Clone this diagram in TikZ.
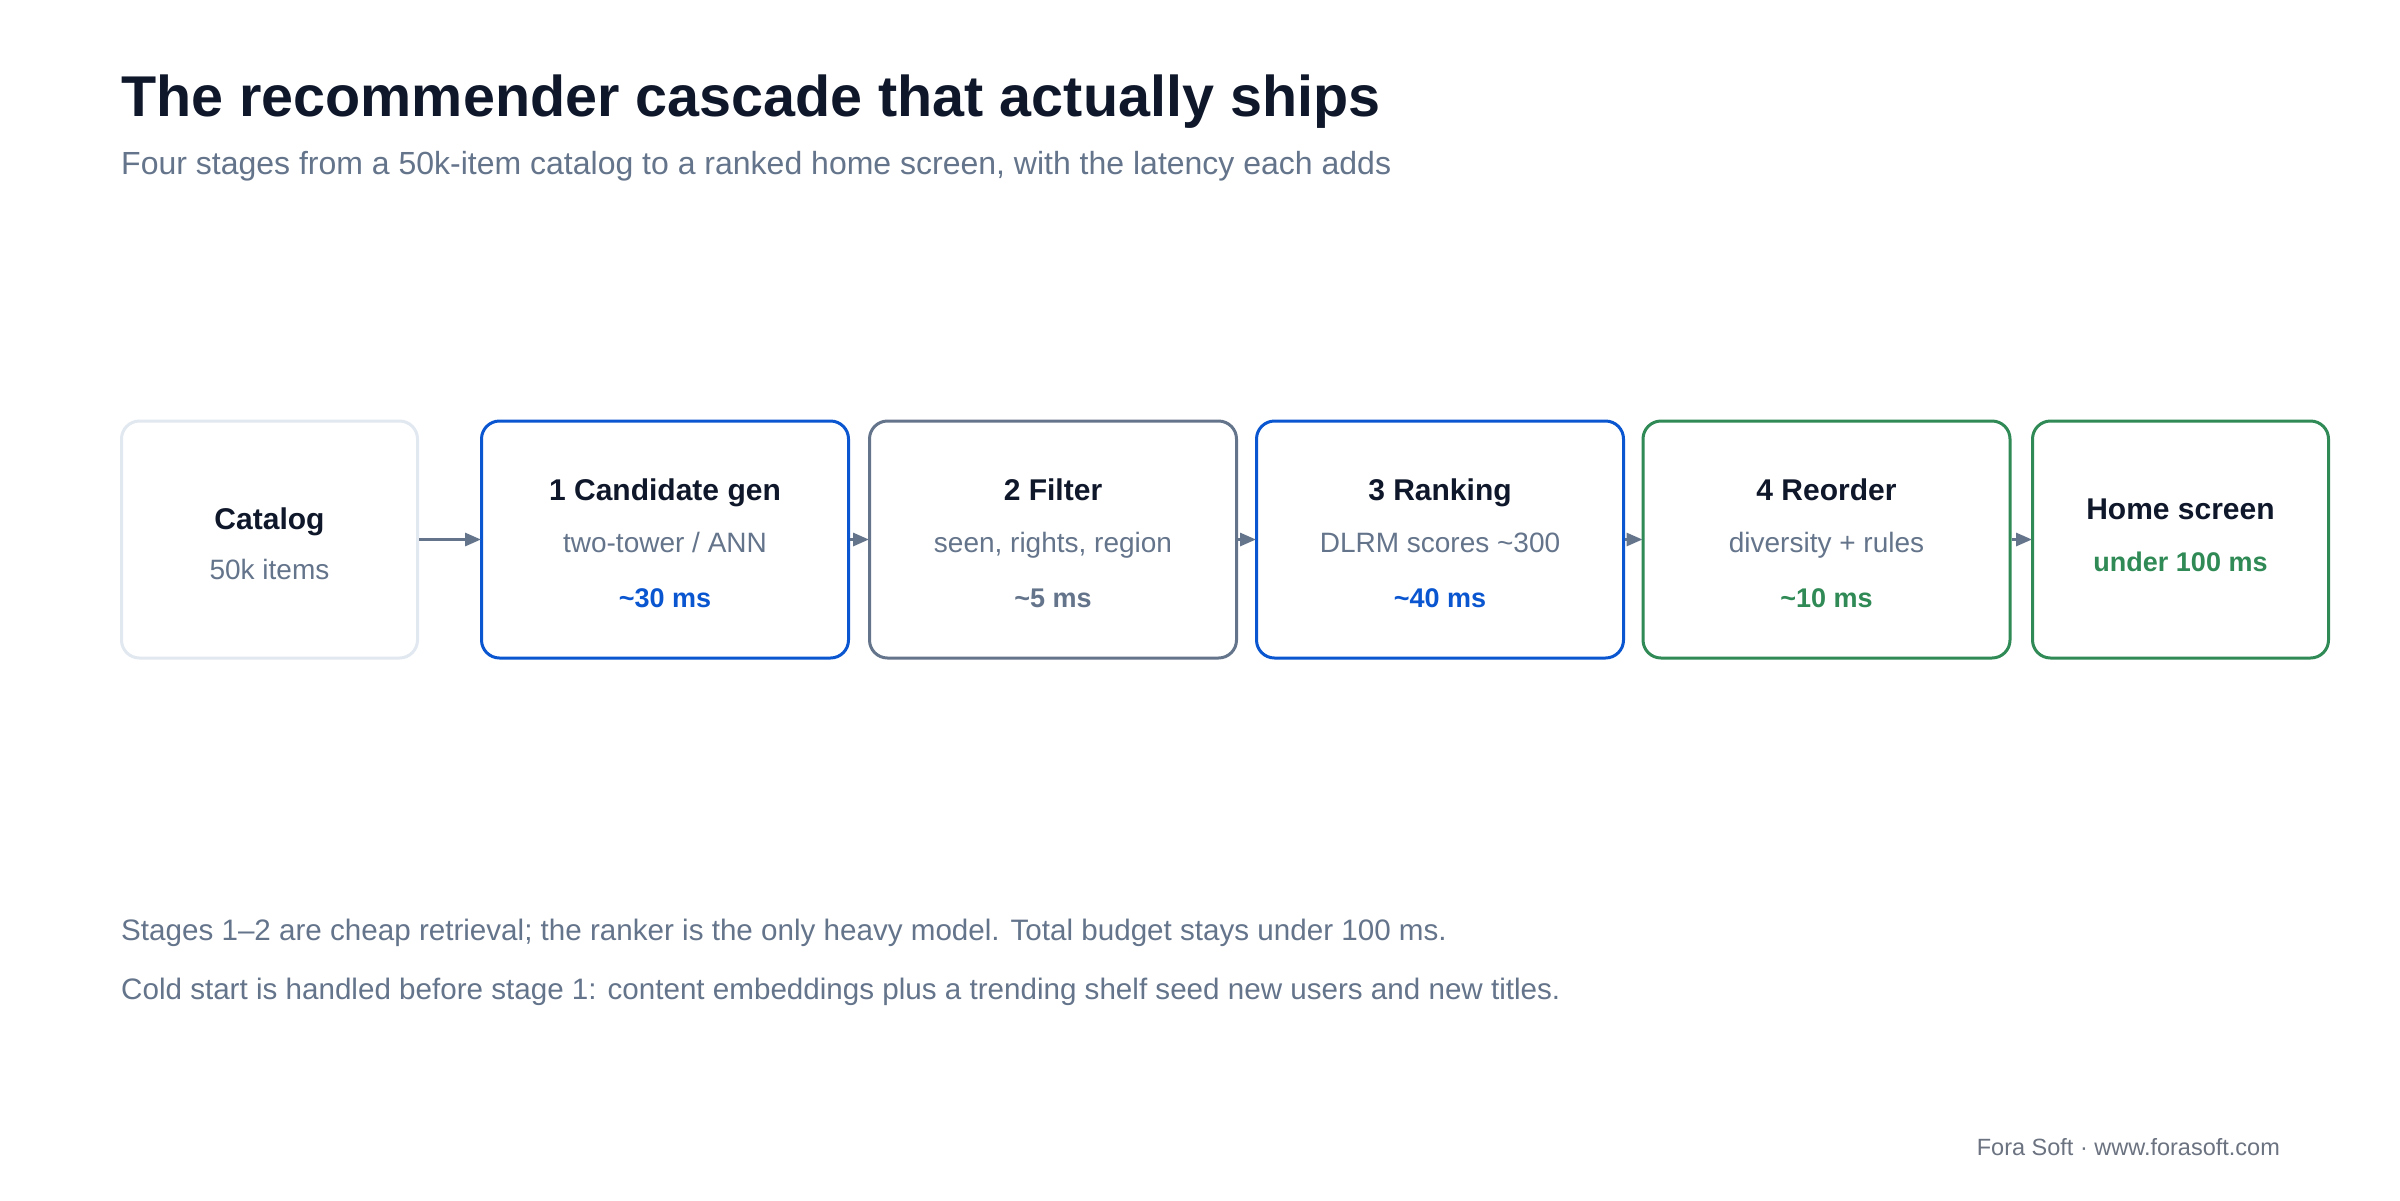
\documentclass[tikz,border=0pt]{standalone}
\usepackage{fontspec}
\setmainfont{Liberation Sans}
\usetikzlibrary{arrows.meta}
\definecolor{ink}{HTML}{0F172A}
\definecolor{muted}{HTML}{64748B}
\definecolor{accblue}{HTML}{0A55D0}
\definecolor{accgreen}{HTML}{2F8A55}
\definecolor{faint}{HTML}{E2E8F0}
\definecolor{footgray}{HTML}{6B7280}
\newcommand{\fs}[1]{\fontsize{#1}{#1}\selectfont}
\tikzset{
  box/.style={draw, line width=3pt, rounded corners=18pt, fill=white, minimum height=237pt, inner sep=0pt},
  stagebox/.style={box, minimum width=367pt},
  endbox/.style={box, minimum width=296pt},
  arr/.style={draw=muted, line width=3pt, -{Triangle[length=16pt,width=13pt]}, shorten >=-1pt},
  ttl/.style={anchor=base, text=ink, font=\fs{30}\bfseries},
  sub/.style={anchor=base, text=muted, font=\fs{28}},
  ms/.style={anchor=base, font=\fs{27}\bfseries},
}
\begin{document}
\begin{tikzpicture}[x=1pt,y=-1pt]
\useasboundingbox (0,0) rectangle (2400,1200);
\fill[white] (0,0) rectangle (2400,1200);
% title
\node[anchor=base west, inner sep=0pt, text=ink, font=\fs{57.5}\bfseries] (title) at (121,116) {The recommender cascade that actually ships};
\node[anchor=base west, inner sep=0pt, text=muted, font=\fs{32}] (subtitle) at (121,174) {Four stages from a 50k-item catalog to a ranked home screen, with the latency each adds};
% boxes
\node[endbox, draw=faint] (cat) at (269.5,539.5) {};
\node[stagebox, draw=accblue] (c1) at (665,539.5) {};
\node[stagebox, draw=muted] (c2) at (1053,539.5) {};
\node[stagebox, draw=accblue] (c3) at (1440,539.5) {};
\node[stagebox, draw=accgreen] (c4) at (1826.5,539.5) {};
\node[endbox, draw=accgreen] (home) at (2180.5,539.5) {};
% texts
\node[ttl] (catT) at (269.5,529) {Catalog};
\node[sub] (catS) at (269.5,579) {50k items};
\node[ttl] (c1T) at (665,500) {1 Candidate gen};
\node[sub] (c1S) at (665,552) {two-tower / ANN};
\node[ms, text=accblue] (c1M) at (665,607) {\textasciitilde30 ms};
\node[ttl] (c2T) at (1053,500) {2 Filter};
\node[sub] (c2S) at (1053,552) {seen, rights, region};
\node[ms, text=muted] (c2M) at (1053,607) {\textasciitilde5 ms};
\node[ttl] (c3T) at (1440,500) {3 Ranking};
\node[sub] (c3S) at (1440,552) {DLRM scores \textasciitilde300};
\node[ms, text=accblue] (c3M) at (1440,607) {\textasciitilde40 ms};
\node[ttl] (c4T) at (1826.5,500) {4 Reorder};
\node[sub] (c4S) at (1826.5,552) {diversity + rules};
\node[ms, text=accgreen] (c4M) at (1826.5,607) {\textasciitilde10 ms};
\node[ttl] (homeT) at (2180.5,519) {Home screen};
\node[ms, text=accgreen] (homeM) at (2180.5,571) {under 100 ms};
% arrows
\draw[arr] (cat.east) -- (c1.west);
\draw[arr] (c1.east) -- (c2.west);
\draw[arr] (c2.east) -- (c3.west);
\draw[arr] (c3.east) -- (c4.west);
\draw[arr] (c4.east) -- (home.west);
% notes
\node[anchor=base west, inner sep=0pt, text=muted, font=\fs{29.6}] (note1) at (121,940) {Stages 1–2 are cheap retrieval; the ranker is the only heavy model. Total budget stays under 100 ms.};
\node[anchor=base west, inner sep=0pt, text=muted, font=\fs{29.6}] (note2) at (121,999) {Cold start is handled before stage 1: content embeddings plus a trending shelf seed new users and new titles.};
\node[anchor=base east, inner sep=0pt, text=footgray, font=\fs{23.5}] (foot) at (2280,1155) {Fora Soft · www.forasoft.com};
\end{tikzpicture}
\end{document}
